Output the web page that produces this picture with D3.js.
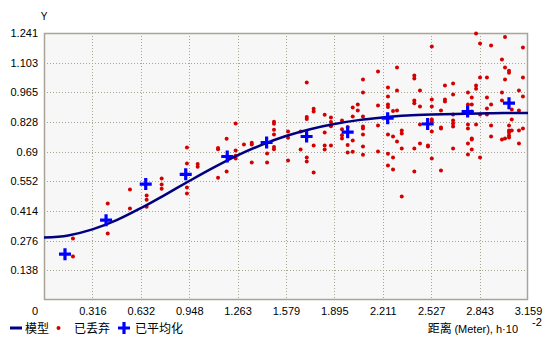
<!DOCTYPE html>
<html>
<head>
<meta charset="utf-8">
<script src="https://cdn.jsdelivr.net/npm/d3@7"></script>
<style>
  body { margin: 0; background: #fff; }
  text { font-family: "Liberation Sans", Arial, sans-serif; }
  .cjk { font-family: "Noto Sans CJK SC", sans-serif; }
</style>
</head>
<body>
<div id="chart"></div>
<script>
// x ticks (lag distance, h*10^-2) and y ticks
var xTicks = [0, 0.316, 0.632, 0.948, 1.263, 1.579, 1.895, 2.211, 2.527, 2.843, 3.159];
var xLabels = ["0", "0.316", "0.632", "0.948", "1.263", "1.579", "1.895", "2.211", "2.527", "2.843", "3.159"];
var yTicks = [0, 0.138, 0.276, 0.414, 0.552, 0.69, 0.828, 0.965, 1.103, 1.241];
var yLabels = ["", "0.138", "0.276", "0.414", "0.552", "0.69", "0.828", "0.965", "1.103", "1.241"];

// fitted model
var modelH = [0, 0.158, 0.316, 0.474, 0.632, 0.790, 0.948, 1.106, 1.263, 1.421, 1.579,
              1.737, 1.895, 2.053, 2.211, 2.369, 2.527, 2.685, 2.843, 3.001, 3.159];
var modelV = [0.290, 0.300, 0.328, 0.371, 0.427, 0.489, 0.553, 0.615, 0.672, 0.721, 0.762,
              0.794, 0.818, 0.836, 0.848, 0.857, 0.862, 0.865, 0.867, 0.869, 0.869];

// averaged (binned) points
var avgH = [0.137, 0.405, 0.664, 0.925, 1.196, 1.453, 1.714, 1.982, 2.243, 2.504, 2.765, 3.035];
var avgV = [0.213, 0.371, 0.539, 0.584, 0.667, 0.732, 0.760, 0.780, 0.845, 0.818, 0.876, 0.915];

// discarded (raw) points [h, value]
var rawPts = [
  [0.189,0.286],[0.189,0.202],[0.416,0.449],[0.416,0.309],[0.561,0.514],[0.561,0.425],
  [0.670,0.486],[0.670,0.466],[0.670,0.433],[0.768,0.565],[0.768,0.537],[0.768,0.517],
  [0.933,0.709],[0.933,0.634],[0.933,0.523],[0.933,0.495],[1.003,0.632],[1.003,0.619],
  [1.715,1.011],[1.251,0.820],[1.501,0.828],[1.501,0.819],[1.501,0.791],[1.501,0.769],
  [1.192,0.749],[1.136,0.707],[1.136,0.701],[1.251,0.695],[1.305,0.723],[1.356,0.731],
  [1.356,0.723],[1.251,0.670],[1.251,0.658],[1.501,0.711],[1.501,0.701],[1.456,0.681],
  [1.356,0.639],[1.456,0.639],[1.192,0.597],[1.136,0.568],[1.593,0.783],[1.593,0.754],
  [1.593,0.648],[1.675,0.700],[1.715,0.850],[1.715,0.841],[1.715,0.662],[1.715,0.644],
  [1.675,0.783],
  [1.760,0.889],[1.760,0.876],[1.832,0.861],[1.873,0.848],[1.873,0.827],[1.873,0.808],
  [1.832,0.779],[1.760,0.718],[1.832,0.718],[1.832,0.700],[1.873,0.718],[1.760,0.593],
  [1.945,0.834],[1.945,0.794],[1.945,0.766],[1.945,0.751],[1.982,0.804],[1.982,0.721],
  [1.982,0.686],[2.015,0.895],[2.015,0.853],[2.015,0.741],[2.015,0.689],[2.048,0.909],
  [2.048,0.881],[2.082,1.025],[2.082,0.964],[2.082,0.853],[2.082,0.806],[2.082,0.797],
  [2.082,0.769],[2.082,0.713],[2.082,0.675],[2.180,1.062],[2.180,0.904],[2.180,0.811],
  [2.180,0.690],[2.245,0.988],[2.245,0.946],[2.245,0.909],[2.245,0.897],[2.245,0.769],
  [2.245,0.680],[2.245,0.625],[2.278,0.879],[2.278,0.760],[2.278,0.662],[2.278,0.607],
  [2.304,1.081],[2.304,0.974],[2.304,0.881],[2.304,0.737],[2.335,0.788],[2.335,0.774],
  [2.335,0.704],[2.335,0.481],[2.417,1.043],[2.417,1.030],[2.417,0.927],[2.417,0.915],
  [2.417,0.704],[2.417,0.597],
  [2.820,1.239],[3.009,1.222],[2.531,1.178],[2.846,1.192],[2.918,1.183],[3.126,1.174],
  [2.989,1.118],[3.009,1.081],[3.035,1.065],[3.035,1.056],[2.846,1.034],[2.891,1.034],
  [3.009,1.025],[3.126,1.034],[2.670,1.006],[2.617,0.997],[2.820,0.997],[2.820,0.982],
  [2.454,0.974],[2.670,0.955],[2.767,0.964],[2.989,0.964],[3.100,0.974],[3.126,0.946],
  [2.531,0.932],[2.617,0.932],[2.617,0.923],[2.792,0.941],[2.891,0.941],[2.989,0.927],
  [2.454,0.899],[2.531,0.899],[2.591,0.881],[2.767,0.909],[2.792,0.909],[2.918,0.909],
  [2.891,0.890],[3.053,0.885],[3.100,0.881],[2.792,0.876],[2.670,0.862],[2.846,0.862],
  [2.891,0.862],[2.531,0.839],[2.531,0.830],[2.670,0.834],[2.670,0.820],[2.670,0.806],
  [2.454,0.816],[2.531,0.783],[2.591,0.802],[2.591,0.797],[2.767,0.816],[2.767,0.797],
  [2.820,0.816],[2.918,0.811],[3.053,0.839],[3.035,0.811],[3.035,0.788],[3.035,0.779],
  [3.035,0.765],[3.053,0.788],[3.100,0.788],[3.126,0.797],[2.918,0.760],[2.792,0.751],
  [2.792,0.746],[2.989,0.746],[3.009,0.751],[3.035,0.755],[2.454,0.727],[2.506,0.718],
  [2.506,0.713],[2.670,0.704],[2.767,0.727],[2.792,0.700],[3.100,0.727],[2.531,0.658],
  [2.767,0.676],[2.846,0.662],[2.591,0.602]
];

var W = 551, H = 337;
var margin = {top: 33, right: 23, bottom: 37, left: 44},
    width = W - margin.left - margin.right,
    height = H - margin.top - margin.bottom;

var svg = d3.select("#chart").append("svg")
    .attr("width", W)
    .attr("height", H);

var g = svg.append("g")
    .attr("transform", "translate(" + margin.left + "," + margin.top + ")");

var x = d3.scaleLinear().domain([0, 3.159]).range([0, width]);
var y = d3.scaleLinear().domain([0, 1.241]).range([height, 0]);

// plot background
g.append("rect")
    .attr("width", width).attr("height", height)
    .attr("fill", "#f7f7f7");

// grid
g.selectAll(".vgrid")
    .data(xTicks.slice(1, -1))
  .enter().append("line")
    .attr("x1", function(d) { return Math.round(x(d)) + 0.5; })
    .attr("x2", function(d) { return Math.round(x(d)) + 0.5; })
    .attr("y1", 0).attr("y2", height)
    .attr("stroke", "#a8a494").attr("stroke-dasharray", "1,2");
g.selectAll(".hgrid")
    .data(yTicks.slice(1, -1))
  .enter().append("line")
    .attr("y1", function(d) { return Math.round(y(d)) + 0.5; })
    .attr("y2", function(d) { return Math.round(y(d)) + 0.5; })
    .attr("x1", 0).attr("x2", width)
    .attr("stroke", "#a8a494").attr("stroke-dasharray", "1,2");

// frame
g.append("rect")
    .attr("x", 0.5).attr("y", 0.5)
    .attr("width", width - 1).attr("height", height - 1)
    .attr("fill", "none").attr("stroke", "#a8a498").attr("stroke-width", 1.5);

// axes (labels only)
var xAxis = g.append("g")
    .attr("transform", "translate(0," + height + ")")
    .call(d3.axisBottom(x).tickValues(xTicks.slice(1)).tickSize(0).tickPadding(7)
      .tickFormat(function(d) { return xLabels[xTicks.indexOf(d)]; }));
xAxis.select(".domain").remove();
xAxis.selectAll("text").attr("font-size", 11).attr("fill", "#000")
    .style("font-family", "'Liberation Sans', Arial, sans-serif");

var yAxis = g.append("g")
    .call(d3.axisLeft(y).tickValues(yTicks.slice(1)).tickSize(0).tickPadding(6)
      .tickFormat(function(d) { return yLabels[yTicks.indexOf(d)]; }));
yAxis.select(".domain").remove();
yAxis.selectAll("text").attr("font-size", 11).attr("fill", "#000")
    .style("font-family", "'Liberation Sans', Arial, sans-serif");

// origin label
g.append("text")
    .attr("x", -6).attr("y", height + 15)
    .attr("text-anchor", "end").attr("font-size", 11)
    .text(xLabels[0]);

// raw points
g.selectAll(".raw")
    .data(rawPts)
  .enter().append("circle")
    .attr("cx", function(d) { return x(d[0]); })
    .attr("cy", function(d) { return y(d[1]); })
    .attr("r", 2)
    .attr("fill", "#d40000");

// model curve
var line = d3.line()
    .x(function(d, i) { return x(modelH[i]); })
    .y(function(d) { return y(d); })
    .curve(d3.curveMonotoneX);
g.append("path")
    .datum(modelV)
    .attr("d", line)
    .attr("fill", "none")
    .attr("stroke", "#000080")
    .attr("stroke-width", 2.5);

// averaged points as crosses
var cross = "M-6,0H6M0,-6V6";
g.selectAll(".avg")
    .data(avgV)
  .enter().append("path")
    .attr("transform", function(d, i) { return "translate(" + x(avgH[i]) + "," + y(d) + ")"; })
    .attr("d", cross)
    .attr("stroke", "#0000ff")
    .attr("stroke-width", 3.2);

// y title
svg.append("text")
    .attr("x", 44).attr("y", 20)
    .attr("text-anchor", "middle").attr("font-size", 10)
    .text("Y");

// legend
var ly = 328;
svg.append("line")
    .attr("x1", 10).attr("x2", 22).attr("y1", ly).attr("y2", ly)
    .attr("stroke", "#000080").attr("stroke-width", 3);
svg.append("text").attr("class", "cjk")
    .attr("x", 25).attr("y", ly + 5).attr("font-size", 12)
    .text("模型");
svg.append("circle")
    .attr("cx", 58.5).attr("cy", ly).attr("r", 2).attr("fill", "#d40000");
svg.append("text").attr("class", "cjk")
    .attr("x", 74).attr("y", ly + 5).attr("font-size", 12)
    .text("已丢弃");
svg.append("path")
    .attr("transform", "translate(124," + ly + ")")
    .attr("d", cross)
    .attr("stroke", "#0000ff").attr("stroke-width", 3.2);
svg.append("text").attr("class", "cjk")
    .attr("x", 135).attr("y", ly + 5).attr("font-size", 12)
    .text("已平均化");

// x title
var xt = svg.append("text")
    .attr("x", 518).attr("y", ly + 5)
    .attr("text-anchor", "end");
xt.append("tspan").attr("class", "cjk").attr("font-size", 12).text("距离 ");
xt.append("tspan").attr("font-size", 11).text(" (Meter), h\u00b710");
svg.append("text")
    .attr("x", 532).attr("y", ly - 2)
    .attr("font-size", 11)
    .text("-2");
</script>
</body>
</html>
